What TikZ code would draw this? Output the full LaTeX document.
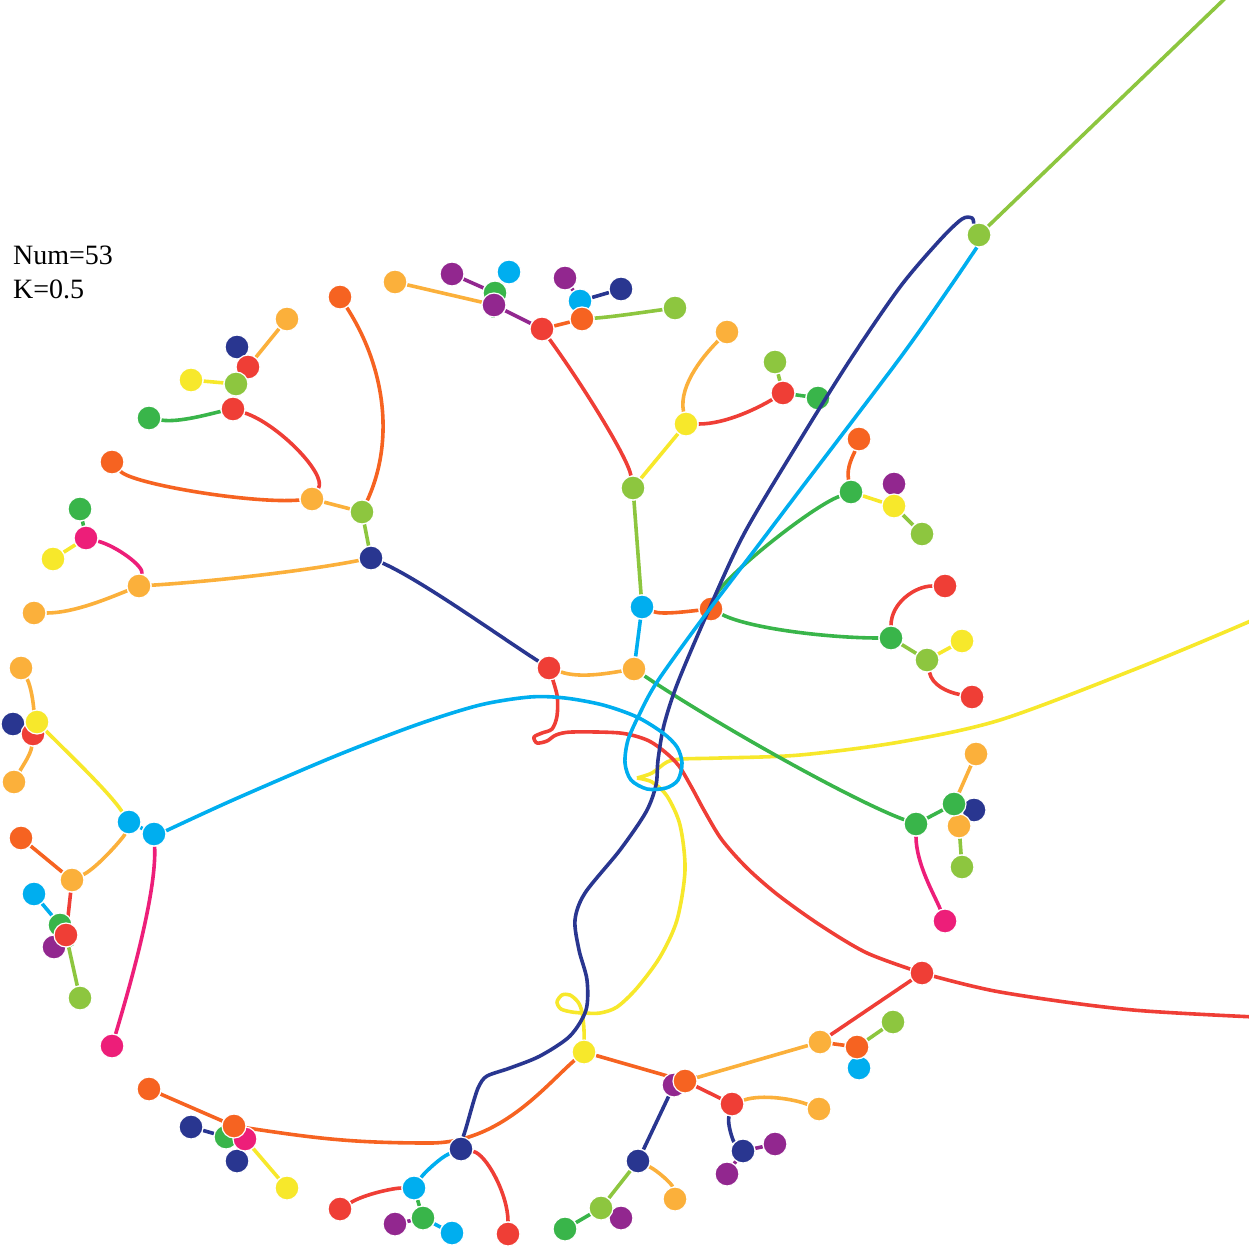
\documentclass[tikz,border=0pt]{standalone}
\usepackage{fontspec}
\setmainfont{Liberation Serif}
\definecolor{cred}{RGB}{239,62,54}
\definecolor{corange}{RGB}{246,99,33}
\definecolor{clorange}{RGB}{251,176,59}
\definecolor{cyellow}{RGB}{247,232,43}
\definecolor{clime}{RGB}{141,198,63}
\definecolor{cgreen}{RGB}{57,181,74}
\definecolor{ccyan}{RGB}{0,174,239}
\definecolor{cnavy}{RGB}{41,54,144}
\definecolor{cpurple}{RGB}{146,39,143}
\definecolor{cpink}{RGB}{237,30,121}
\pgfdeclarelayer{edges}
\pgfdeclarelayer{over}
\pgfsetlayers{edges,main,over}

\begin{document}
\begin{tikzpicture}[x=1pt, y=-1pt]
    \tikzset{
        v/.style={circle, fill=#1, draw=white, line width=1.2pt, minimum size=24pt, inner sep=0pt},
        e/.style={draw=#1, line width=3.6pt, line join=round},
        lbl/.style={anchor=base west, inner sep=0pt, font=\fontsize{28}{33}\selectfont}
        }
    \useasboundingbox (0,0) rectangle (1248,1249);

    %labels
    \node (num) [lbl] at (13,265) {Num=53};
    \node (kval) [lbl] at (13,298) {K=0.5};

    %upper left
    \node (o1) [v=corange] at (340,297) {};
    \node (lo1) [v=clorange] at (395,282) {};
    \node (lo2) [v=clorange] at (287,319) {};
    \node (n1) [v=cnavy] at (237,347) {};
    \node (r1) [v=cred] at (248,367) {};
    \node (y1) [v=cyellow] at (191,380) {};
    \node (l1) [v=clime] at (236,384) {};
    \node (r2) [v=cred] at (233,409) {};
    \node (g1) [v=cgreen] at (149,418) {};
    \node (o2) [v=corange] at (112,462) {};
    \node (lo3) [v=clorange] at (312,499) {};
    \node (l2) [v=clime] at (362,512) {};
    \node (n2) [v=cnavy] at (371,558) {};

    %left
    \node (g2) [v=cgreen] at (80,509) {};
    \node (p1) [v=cpink] at (86,538) {};
    \node (y2) [v=cyellow] at (53,559) {};
    \node (lo4) [v=clorange] at (139,586) {};
    \node (lo5) [v=clorange] at (34,613) {};
    \node (lo6) [v=clorange] at (21,668) {};
    \node (n3) [v=cnavy] at (13,724) {};
    \node (r3) [v=cred] at (33,734) {};
    \node (y3) [v=cyellow] at (37,722) {};
    \node (lo7) [v=clorange] at (14,782) {};
    \node (c1) [v=ccyan] at (129,822) {};
    \node (c2) [v=ccyan] at (154,834) {};
    \node (o3) [v=corange] at (21,838) {};
    \node (lo8) [v=clorange] at (72,880) {};
    \node (c3) [v=ccyan] at (34,894) {};
    \node (g3) [v=cgreen] at (60,925) {};
    \node (pu1) [v=cpurple] at (54,947) {};
    \node (r4) [v=cred] at (66,935) {};
    \node (l3) [v=clime] at (80,998) {};
    \node (p2) [v=cpink] at (112,1046) {};

    %lower left
    \node (o4) [v=corange] at (149,1089) {};
    \node (n4) [v=cnavy] at (191,1127) {};
    \node (g4) [v=cgreen] at (226,1137) {};
    \node (n5) [v=cnavy] at (237,1161) {};
    \node (p3) [v=cpink] at (245,1139) {};
    \node (o5) [v=corange] at (234,1126) {};
    \node (y4) [v=cyellow] at (287,1188) {};
    \node (r5) [v=cred] at (340,1209) {};
    \node (pu2) [v=cpurple] at (395,1224) {};
    \node (c4) [v=ccyan] at (414,1188) {};
    \node (g5) [v=cgreen] at (423,1218) {};
    \node (c5) [v=ccyan] at (452,1233) {};
    \node (n6) [v=cnavy] at (461,1149) {};
    \node (r6) [v=cred] at (508,1234) {};

    %lower middle
    \node (y5) [v=cyellow] at (584,1052) {};
    \node (pu3) [v=cpurple] at (674,1085) {};
    \node (o6) [v=corange] at (685,1081) {};
    \node (r7) [v=cred] at (732,1104) {};
    \node (lo9) [v=clorange] at (819,1109) {};
    \node (lo10) [v=clorange] at (820,1042) {};
    \node (n7) [v=cnavy] at (743,1151) {};
    \node (pu4) [v=cpurple] at (775,1144) {};
    \node (pu5) [v=cpurple] at (727,1174) {};
    \node (n8) [v=cnavy] at (638,1161) {};
    \node (lo11) [v=clorange] at (675,1199) {};
    \node (pu6) [v=cpurple] at (621,1218) {};
    \node (l4) [v=clime] at (601,1208) {};
    \node (g6) [v=cgreen] at (565,1229) {};

    %lower right
    \node (r8) [v=cred] at (922,973) {};
    \node (l5) [v=clime] at (893,1022) {};
    \node (c6) [v=ccyan] at (859,1068) {};
    \node (o7) [v=corange] at (857,1047) {};
    \node (p4) [v=cpink] at (945,921) {};

    %right
    \node (g7) [v=cgreen] at (916,824) {};
    \node (n9) [v=cnavy] at (974,810) {};
    \node (lo12) [v=clorange] at (959,826) {};
    \node (g8) [v=cgreen] at (954,804) {};
    \node (lo13) [v=clorange] at (976,754) {};
    \node (l6) [v=clime] at (962,867) {};
    \node (g9) [v=cgreen] at (891,638) {};
    \node (r9) [v=cred] at (945,586) {};
    \node (l7) [v=clime] at (927,660) {};
    \node (y6) [v=cyellow] at (962,641) {};
    \node (r10) [v=cred] at (972,697) {};

    %upper right
    \node (l8) [v=clime] at (979,235) {};
    \node (o8) [v=corange] at (859,439) {};
    \node (g10) [v=cgreen] at (851,492) {};
    \node (pu7) [v=cpurple] at (894,484) {};
    \node (y7) [v=cyellow] at (894,506) {};
    \node (l9) [v=clime] at (922,534) {};

    %top
    \node (pu8) [v=cpurple] at (452,274) {};
    \node (c7) [v=ccyan] at (509,272) {};
    \node (g11) [v=cgreen] at (495,293) {};
    \node (pu9) [v=cpurple] at (494,305) {};
    \node (r11) [v=cred] at (542,329) {};
    \node (pu10) [v=cpurple] at (565,278) {};
    \node (c8) [v=ccyan] at (580,301) {};
    \node (n10) [v=cnavy] at (621,289) {};
    \node (o9) [v=corange] at (582,319) {};
    \node (l10) [v=clime] at (675,308) {};
    \node (lo14) [v=clorange] at (727,332) {};
    \node (l11) [v=clime] at (775,362) {};
    \node (r12) [v=cred] at (783,393) {};
    \node (g12) [v=cgreen] at (818,398) {};
    \node (y8) [v=cyellow] at (686,424) {};
    \node (l12) [v=clime] at (633,488) {};

    %centre
    \node (c9) [v=ccyan] at (642,607) {};
    \node (o10) [v=corange] at (711,609) {};
    \node (r13) [v=cred] at (549,668) {};
    \node (lo15) [v=clorange] at (634,669) {};

    %off the page
    \coordinate (far1) at (1240,-16);
    \coordinate (far2) at (1300,598);
    \coordinate (far3) at (1300,1019);

    \begin{pgfonlayer}{edges}
    % upper left
    \draw[e=clorange] (r1) -- (lo2);
    \draw[e=cnavy] (r1) -- (n1);
    \draw[e=cred] (l1) -- (r1);
    \draw[e=cyellow] (l1) -- (y1);
    \draw[e=clime] (r2) -- (l1);
    \draw[e=cgreen] (g1) .. controls +(30,5) and +(-20,4) .. (r2);
    \draw[e=cred] (r2) .. controls +(45,15) and +(15,-25) .. (lo3);
    \draw[e=corange] (o2) .. controls +(20,22) and +(-60,5) .. (lo3);
    \draw[e=clorange] (l2) -- (lo3);
    \draw[e=corange] (o1) .. controls +(45,70) and +(33,-72) .. (l2);
    \draw[e=clime] (n2) -- (l2);
    \draw[e=cnavy] (n2) .. controls +(50,22) and +(-50,-32) .. (r13);

    % left
    \draw[e=cgreen] (p1) -- (g2);
    \draw[e=cyellow] (p1) -- (y2);
    \draw[e=cpink] (p1) .. controls +(30,8) and +(5,-20) .. (lo4);
    \draw[e=clorange] (lo5) .. controls +(40,0) and +(-30,12) .. (lo4);
    \draw[e=clorange] (lo4) .. controls +(80,-5) and +(-60,12) .. (n2);
    \draw[e=clorange] (lo6) .. controls +(10,18) and +(2,-25) .. (r3);
    \draw[e=clorange] (r3) .. controls +(-2,20) and +(8,-15) .. (lo7);
    \draw[e=cnavy] (r3) -- (n3);
    \draw[e=cyellow] (r3) -- (y3);
    \draw[e=cyellow] (y3) .. controls +(30,30) and +(-20,-30) .. (c1);
    \draw[e=ccyan] (c1) -- (c2);
    \draw[e=cpink] (c2) .. controls +(3,60) and +(15,-50) .. (p2);
    \draw[e=corange] (lo8) -- (o3);
    \draw[e=clorange] (lo8) .. controls +(25,-12) and +(-5,15) .. (c1);
    \draw[e=ccyan] (g3) -- (c3);
    \draw[e=cgreen] (r4) -- (g3);
    \draw[e=cred] (r4) -- (lo8);
    \draw[e=cpurple] (r4) -- (pu1);
    \draw[e=clime] (r4) -- (l3);

    % lower left
    \draw[e=corange] (o5) -- (o4);
    \draw[e=cnavy] (g4) -- (n4);
    \draw[e=cgreen] (o5) -- (g4);
    \draw[e=cpink] (o5) -- (p3);
    \draw[e=cnavy] (p3) -- (n5);
    \draw[e=cyellow] (p3) -- (y4);
    \draw[e=corange] (o5) .. controls +(80,12) and +(-80,0) .. (430,1143)
        .. controls +(70,0) and +(-40,35) .. (y5);
    \draw[e=ccyan] (n6) .. controls +(-20,8) and +(10,-15) .. (c4);
    \draw[e=cred] (r5) .. controls +(25,-15) and +(-20,0) .. (c4);
    \draw[e=cgreen] (c4) -- (g5);
    \draw[e=cpurple] (g5) -- (pu2);
    \draw[e=ccyan] (g5) -- (c5);
    \draw[e=cred] (n6) .. controls +(25,5) and +(0,-40) .. (r6);

    % lower middle
    \draw[e=corange] (y5) -- (o6);
    \draw[e=cpurple] (o6) -- (pu3);
    \draw[e=cred] (o6) -- (r7);
    \draw[e=clorange] (o6) -- (lo10);
    \draw[e=clorange] (r7) .. controls +(30,-10) and +(-25,-10) .. (lo9);
    \draw[e=cnavy] (r7) .. controls +(-5,20) and +(-10,-10) .. (n7);
    \draw[e=cpurple] (n7) -- (pu4);
    \draw[e=cpurple] (n7) -- (pu5);
    \draw[e=cnavy] (pu3) -- (n8);
    \draw[e=clorange] (n8) .. controls +(20,10) and +(-3,-15) .. (lo11);
    \draw[e=clime] (n8) -- (l4);
    \draw[e=cgreen] (l4) -- (g6);
    \draw[e=cpurple] (l4) -- (pu6);
    \draw[e=cyellow] plot[smooth] coordinates {(y5) (584,1030) (582,1012) (578,1002) (570,995)
        (562,995) (557,1002) (561,1009) (572,1012) (584,1013) (600,1013) (617,1007) (637,988)
        (660,957) (677,920) (685,870) (680,825) (667,796) (652,782) (637,778)}
        plot[smooth] coordinates {(637,778) (652,773) (667,762) (682,759) (720,758) (800,755)
        (900,742) (1000,720) (1133,670) (1246,623) (far2)};

    % lower right
    \draw[e=cred] (lo10) -- (r8);
    \draw[e=corange] (lo10) -- (o7);
    \draw[e=clime] (o7) -- (l5);
    \draw[e=ccyan] (o7) -- (c6);
    \draw[e=cred] plot[smooth] coordinates {(r13) (557,695) (557,716) (552,729) (542,733)
        (534,737) (537,743) (547,741) (556,735) (572,732) (620,733) (647,740) (665,752)
        (679,766) (692,788) (705,812) (722,840) (747,868) (778,895) (820,925) (867,953) (r8)};
    \draw[e=cred] plot[smooth] coordinates {(r8) (1000,992) (1133,1010) (far3)};

    % right
    \draw[e=cgreen] (lo15) .. controls +(90,60) and +(-60,-22) .. (g7);
    \draw[e=cgreen] (g7) -- (g8);
    \draw[e=clorange] (g8) -- (lo13);
    \draw[e=cnavy] (g8) -- (n9);
    \draw[e=clorange] (g8) -- (lo12);
    \draw[e=clime] (lo12) -- (l6);
    \draw[e=cpink] (g7) .. controls +(0,40) and +(-10,-25) .. (p4);
    \draw[e=cgreen] (o10) .. controls +(40,20) and +(-60,0) .. (g9);
    \draw[e=cred] (g9) .. controls +(0,-35) and +(-30,0) .. (r9);
    \draw[e=clime] (g9) -- (l7);
    \draw[e=cyellow] (l7) -- (y6);
    \draw[e=cred] (l7) .. controls +(5,25) and +(-25,-5) .. (r10);

    % upper right
    \draw[e=clime] (l8) -- (far1);
    \draw[e=cgreen] (o10) .. controls +(10,-30) and +(-40,15) .. (g10);
    \draw[e=corange] (g10) .. controls +(-5,-25) and +(-5,15) .. (o8);
    \draw[e=cyellow] (g10) -- (y7);
    \draw[e=cpurple] (y7) -- (pu7);
    \draw[e=clime] (y7) -- (l9);

    % top
    \draw[e=clorange] (pu9) -- (lo1);
    \draw[e=cpurple] (g11) -- (pu8);
    \draw[e=ccyan] (g11) -- (c7);
    \draw[e=cgreen] (pu9) -- (g11);
    \draw[e=cpurple] (r11) -- (pu9);
    \draw[e=corange] (r11) -- (o9);
    \draw[e=clime] (o9) .. controls +(30,-2) and +(-30,4) .. (l10);
    \draw[e=ccyan] (o9) -- (c8);
    \draw[e=cnavy] (c8) -- (n10);
    \draw[e=cpurple] (c8) -- (pu10);
    \draw[e=cred] (l12) .. controls +(-5,-30) and +(40,55) .. (r11);
    \draw[e=cyellow] (l12) -- (y8);
    \draw[e=clorange] (y8) .. controls +(-8,-40) and +(-20,20) .. (lo14);
    \draw[e=cred] (y8) .. controls +(40,0) and +(-25,15) .. (r12);
    \draw[e=clime] (r12) -- (l11);
    \draw[e=cgreen] (r12) -- (g12);

    % centre
    \draw[e=corange] (c9) .. controls +(20,8) and +(-20,2) .. (o10);
    \draw[e=ccyan] (c9) -- (lo15);
    \draw[e=clime] (c9) -- (l12);
    \draw[e=clorange] (r13) .. controls +(30,10) and +(-30,5) .. (lo15);
    \end{pgfonlayer}

    \begin{pgfonlayer}{over}
    \draw[e=cnavy] plot[smooth] coordinates {(n6.80) (466,1128) (474,1100) (479,1086) (487,1076)
        (510,1068) (540,1056) (570,1036) (586,1010) (587,980) (579,950) (575,920) (585,893)
        (620,850) (646,812) (656,785) (658,760) (664,725) (678,682) (710,607) (745,532)
        (800,440) (850,360) (900,287) (940,240) (962,219) (972,218) (l8.115)};
    \draw[e=ccyan] plot[smooth] coordinates {(c2.15) (233,800) (333,757) (416,725) (480,705)
        (530,697) (565,698) (603,705) (637,717) (663,733) (677,747) (682,763) (678,780)
        (666,788) (647,789) (631,780) (625,763) (628,740) (640,713) (657,682) (700,622)
        (760,543) (800,490) (900,358) (950,287) (l8.260)};
    \end{pgfonlayer}
\end{tikzpicture}
\end{document}
